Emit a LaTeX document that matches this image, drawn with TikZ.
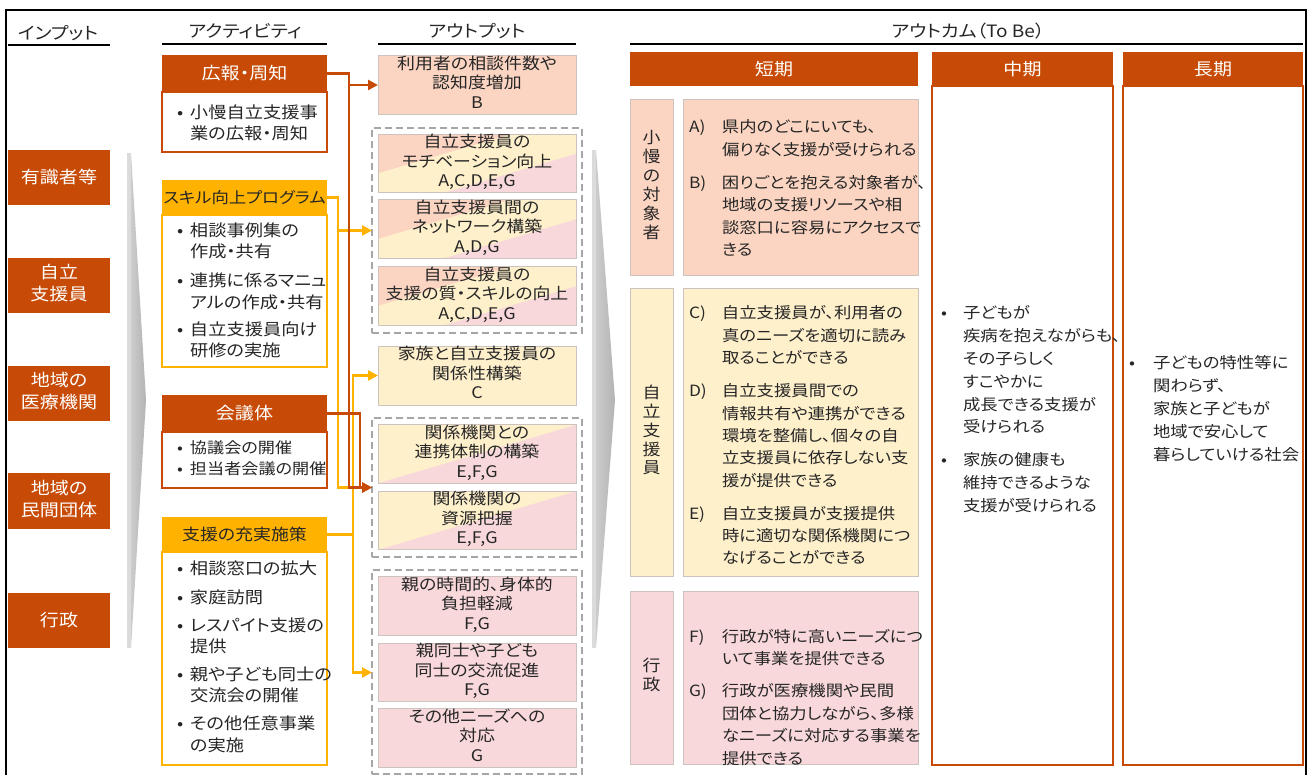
\documentclass[tikz,border=0pt]{standalone}
\usepackage{fontspec}
\setmainfont{Noto Sans CJK JP}[RawFeature=+palt,FakeStretch=1.12]
\usetikzlibrary{arrows.meta,calc}
\definecolor{dko}{RGB}{199,75,6}
\definecolor{gold}{RGB}{255,178,0}
\definecolor{salm}{RGB}{251,213,194}
\definecolor{lyel}{RGB}{255,240,204}
\definecolor{lpink}{RGB}{248,216,219}
\definecolor{txt}{RGB}{38,38,38}
\definecolor{dashg}{RGB}{166,166,166}
\definecolor{bord}{RGB}{205,195,190}
\newcommand{\fsz}[2]{\fontsize{#1pt}{#2pt}\selectfont}
\newcommand{\bulx}[1]{\makebox[#1][l]{•}}
\newcommand{\ctab}[1]{\begin{tabular}{@{}c@{}}#1\end{tabular}}
\tikzset{
  every node/.style={inner sep=0pt,outer sep=0pt},
  hdr/.style={font=\fsz{17}{20},text=txt},
  inbox/.style={fill=dko,text=white,font=\fsz{17}{22},minimum width=102pt,minimum height=55pt},
  acthA/.style={fill=dko,text=white,font=\fsz{17}{20},minimum width=165pt,minimum height=37pt},
  acthB/.style={fill=gold,text=txt,font=\fsz{16}{20},minimum width=165pt,minimum height=35pt},
  actbA/.style={draw=dko,line width=1.6pt,fill=white,minimum width=165pt},
  actbB/.style={draw=gold,line width=1.6pt,fill=white,minimum width=165pt},
  btxt/.style={anchor=base west,text=txt},
  obox/.style={draw=bord,line width=0.6pt,minimum width=198pt,font=\fsz{16}{19.5},text=txt},
  grp/.style={draw=dashg,line width=2.5pt,dash pattern=on 7pt off 4pt,minimum width=210pt},
  tri/.style={path picture={
    \fill[lpink] (path picture bounding box.north west) rectangle (path picture bounding box.south east);
    \fill[lyel] (path picture bounding box.north west) -- (path picture bounding box.north east) -- ($(path picture bounding box.north east)!0.333!(path picture bounding box.south east)$) -- ($(path picture bounding box.south west)!0.333!(path picture bounding box.south east)$) -- (path picture bounding box.south west) -- cycle;
    \fill[salm] (path picture bounding box.north west) -- ($(path picture bounding box.north west)!0.667!(path picture bounding box.north east)$) -- ($(path picture bounding box.north west)!0.667!(path picture bounding box.south west)$) -- cycle;
  }},
  duo/.style={path picture={
    \fill[lpink] (path picture bounding box.north west) rectangle (path picture bounding box.south east);
    \fill[lyel] (path picture bounding box.north west) -- (path picture bounding box.north east) -- (path picture bounding box.south west) -- cycle;
  }},
  ohd/.style={fill=dko,text=white,font=\fsz{17}{20},minimum height=34pt},
  obody/.style={draw=dko,line width=2pt,fill=white},
  lab/.style={draw=bord,line width=0.6pt,minimum width=43pt,font=\fsz{16}{18.6},text=txt},
  stx/.style={draw=bord,line width=0.6pt,minimum width=235pt},
  otxt/.style={anchor=base west,text=txt,font=\fsz{15.5}{22.4}},
  oline/.style={draw=dko,line width=2.5pt},
  gline/.style={draw=gold,line width=2.5pt},
  arr/.style={-{Triangle[length=10pt,width=10pt]}}
}
\begin{document}
\begin{tikzpicture}[x=1pt,y=-1pt]
\useasboundingbox (0,0) rectangle (1310,775);
\fill[white] (0,0) rectangle (1310,775);
% frame
\draw[line width=2.5pt,black] (6,800) -- (6,10) -- (1306,10) -- (1306,800);
% column headings
\node[hdr] (hIn) at (58,33) {インプット};
\node[hdr] (hAct) at (245,31) {アクティビティ};
\node[hdr] (hOut) at (477,31) {アウトプット};
\node[hdr] (hOc) at (968,31) {アウトカム（To Be）};
\draw[line width=1.8pt,black] (8,45) -- (110,45);
\draw[line width=1.8pt,black] (162,44) -- (327,44);
\draw[line width=1.8pt,black] (378,44) -- (576,44);
\draw[line width=1.8pt,black] (630,44) -- (1303,44);
% chevrons
\fill[gray!28] (127,153) -- (131,153) -- (131,648) -- (127,648) -- cycle;
\shade[left color=gray!40,right color=gray!60] (131,153) -- (146,400) -- (131,648) -- cycle;
\fill[gray!28] (592,150) -- (596,150) -- (596,648) -- (592,648) -- cycle;
\shade[left color=gray!40,right color=gray!60] (596,150) -- (615,400) -- (596,648) -- cycle;
% inputs
\node[inbox] (in1) at (59,177.5) {有識者等};
\node[inbox] (in2) at (59,285.5) {\ctab{自立\\支援員}};
\node[inbox] (in3) at (59,393.5) {\ctab{地域の\\医療機関}};
\node[inbox] (in4) at (59,501) {\ctab{地域の\\民間団体}};
\node[inbox] (in5) at (59,620.5) {行政};
% activities
\node[actbA,minimum height=60pt] (b1) at (244.5,122) {};
\node[acthA] (h1) at (244.5,73.5) {広報・周知};
\node[btxt,font=\fsz{16.3}{21}] (bt1) at (177,118.5) {\begin{tabular}[t]{@{}l@{}l@{}}\bulx{13pt} & 小慢自立支援事\\ & 業の広報・周知\end{tabular}};
\node[actbB,minimum height=152pt] (b2) at (244.5,291) {};
\node[acthB,font=\fsz{15.5}{20}] (h2) at (244.5,197.5) {スキル向上プログラム};
\node[btxt,font=\fsz{16.3}{21.5}] (bt2) at (177,236.5) {\begin{tabular}[t]{@{}l@{}l@{}}\bulx{13pt} & 相談事例集の\\ & 作成・共有\\[7.5pt] \bulx{13pt} & 連携に係るマニュ\\ & アルの作成・共有\\[5.5pt] \bulx{13pt} & 自立支援員向け\\ & 研修の実施\end{tabular}};
\node[actbA,minimum height=56pt] (b3) at (244.5,460) {};
\node[acthA] (h3) at (244.5,413.5) {会議体};
\node[btxt,font=\fsz{15.3}{21}] (bt3) at (177,453.5) {\begin{tabular}[t]{@{}l@{}l@{}}\bulx{13pt} & 協議会の開催\\ \bulx{13pt} & 担当者会議の開催\end{tabular}};
\node[actbB,minimum height=213pt] (b4) at (244.5,658.5) {};
\node[acthB] (h4) at (244.5,534.5) {支援の充実施策};
\node[btxt,font=\fsz{16.3}{21.5}] (bt4) at (177,574.5) {\begin{tabular}[t]{@{}l@{}l@{}}\bulx{13pt} & 相談窓口の拡大\\[7pt] \bulx{13pt} & 家庭訪問\\[6.5pt] \bulx{13pt} & レスパイト支援の\\ & 提供\\[6pt] \bulx{13pt} & 親や子ども同士の\\ & 交流会の開催\\[7pt] \bulx{13pt} & その他任意事業\\ & の実施\end{tabular}};
% output groups
\node[grp,minimum height=205pt] (g1) at (477,230.5) {};
\node[grp,minimum height=139pt] (g2) at (477,487.5) {};
\node[grp,minimum height=204pt] (g3) at (477,672) {};
% outputs
\node[obox,fill=salm,minimum height=58pt] (oB) at (477,85) {\ctab{利用者の相談件数や\\認知度増加\\B}};
\node[obox,tri,minimum height=57pt] (o1) at (477,163.5) {\ctab{自立支援員の\\モチベーション向上\\A,C,D,E,G}};
\node[obox,tri,minimum height=58pt] (o2) at (477,229) {\ctab{自立支援員間の\\ネットワーク構築\\A,D,G}};
\node[obox,tri,minimum height=58pt] (o3) at (477,296) {\ctab{自立支援員の\\支援の質・スキルの向上\\A,C,D,E,G}};
\node[obox,fill=lyel,minimum height=59pt] (fam) at (477,375.5) {\ctab{家族と自立支援員の\\関係性構築\\C}};
\node[obox,duo,minimum height=58pt] (o4) at (477,454) {\ctab{関係機関との\\連携体制の構築\\E,F,G}};
\node[obox,duo,minimum height=57pt] (o5) at (477,520.5) {\ctab{関係機関の\\資源把握\\E,F,G}};
\node[obox,fill=lpink,minimum height=58pt] (o6) at (477,606) {\ctab{親の時間的、身体的\\負担軽減\\F,G}};
\node[obox,fill=lpink,minimum height=57pt] (o7) at (477,672.5) {\ctab{親同士や子ども\\同士の交流促進\\F,G}};
\node[obox,fill=lpink,minimum height=58pt] (o8) at (477,738) {\ctab{その他ニーズへの\\対応\\G}};
% outcomes
\node[ohd,minimum width=288pt] (sh) at (774,69) {短期};
\node[obody,minimum width=181pt,minimum height=679pt] (mb) at (1022.5,425.5) {};
\node[ohd,minimum width=181pt] (mh) at (1022.5,69) {中期};
\node[obody,minimum width=180pt,minimum height=679pt] (lb) at (1213,425.5) {};
\node[ohd,minimum width=180pt] (lh) at (1213,69) {長期};
\node[lab,fill=salm,minimum height=176pt] (lab1) at (651.5,187) {\ctab{小\\慢\\の\\対\\象\\者}};
\node[stx,fill=salm,minimum height=176pt] (sx1) at (800.5,187) {};
\node[lab,fill=lyel,minimum height=288pt] (lab2) at (651.5,432) {\ctab{自\\立\\支\\援\\員}};
\node[stx,fill=lyel,minimum height=288pt] (sx2) at (800.5,432) {};
\node[lab,fill=lpink,minimum height=173pt] (lab3) at (651.5,677.5) {\ctab{行\\政}};
\node[stx,fill=lpink,minimum height=173pt] (sx3) at (800.5,677.5) {};
\node[otxt] (tA) at (689,133) {\begin{tabular}[t]{@{}l@{}l@{}}\makebox[33pt][l]{A)} & 県内のどこにいても、\\ & 偏りなく支援が受けられる\\[10.7pt] \makebox[33pt][l]{B)} & 困りごとを抱える対象者が、\\ & 地域の支援リソースや相\\ & 談窓口に容易にアクセスで\\ & きる\end{tabular}};
\node[otxt] (tC) at (689,319) {\begin{tabular}[t]{@{}l@{}l@{}}\makebox[33pt][l]{C)} & 自立支援員が、利用者の\\ & 真のニーズを適切に読み\\ & 取ることができる\\[10.5pt] \makebox[33pt][l]{D)} & 自立支援員間での\\ & 情報共有や連携ができる\\ & 環境を整備し、個々の自\\ & 立支援員に依存しない支\\ & 援が提供できる\\[10.5pt] \makebox[33pt][l]{E)} & 自立支援員が支援提供\\ & 時に適切な関係機関につ\\ & なげることができる\end{tabular}};
\node[otxt] (tF) at (689,642.5) {\begin{tabular}[t]{@{}l@{}l@{}}\makebox[33pt][l]{F)} & 行政が特に高いニーズにつ\\ & いて事業を提供できる\\[9.5pt] \makebox[33pt][l]{G)} & 行政が医療機関や民間\\ & 団体と協力しながら、多様\\ & なニーズに対応する事業を\\ & 提供できる\end{tabular}};
\node[otxt,font=\fsz{15.5}{22.8}] (tM) at (941,319) {\begin{tabular}[t]{@{}l@{}l@{}}\bulx{22pt} & 子どもが\\ & 疾病を抱えながらも、\\ & その子らしく\\ & すこやかに\\ & 成長できる支援が\\ & 受けられる\\[10pt] \bulx{22pt} & 家族の健康も\\ & 維持できるような\\ & 支援が受けられる\end{tabular}};
\node[otxt,font=\fsz{15.5}{23}] (tL) at (1129,369) {\begin{tabular}[t]{@{}l@{}l@{}}\bulx{24pt} & 子どもの特性等に\\ & 関わらず、\\ & 家族と子どもが\\ & 地域で安心して\\ & 暮らしていける社会\end{tabular}};
% connectors
\coordinate (busA) at (349,0);
\coordinate (busB) at (338,0);
\coordinate (busC) at (360,0);
\coordinate (busD) at (353,0);
\draw[oline,arr] (h1.east) -| (busA |- oB.west) -- (oB.west);
\draw[gline,arr] (h2.east) -| (busB |- g1.west) -- (g1.west);
\draw[gline] (h2.east) -| (busB |- g2.west) -- (busA |- g2.west);
\draw[gline,arr] (h4.east) -| (busD |- fam.west) -- (fam.west);
\draw[gline,arr] (h4.east) -| (busD |- o7.west) -- (g3.west |- o7.west);
\draw[oline,arr] (h1.east) -| (busA |- g2.west) -- (g2.west);
\draw[oline,arr] (h3.east) -| (busC |- g2.west) -- (g2.west);
\end{tikzpicture}
\end{document}
